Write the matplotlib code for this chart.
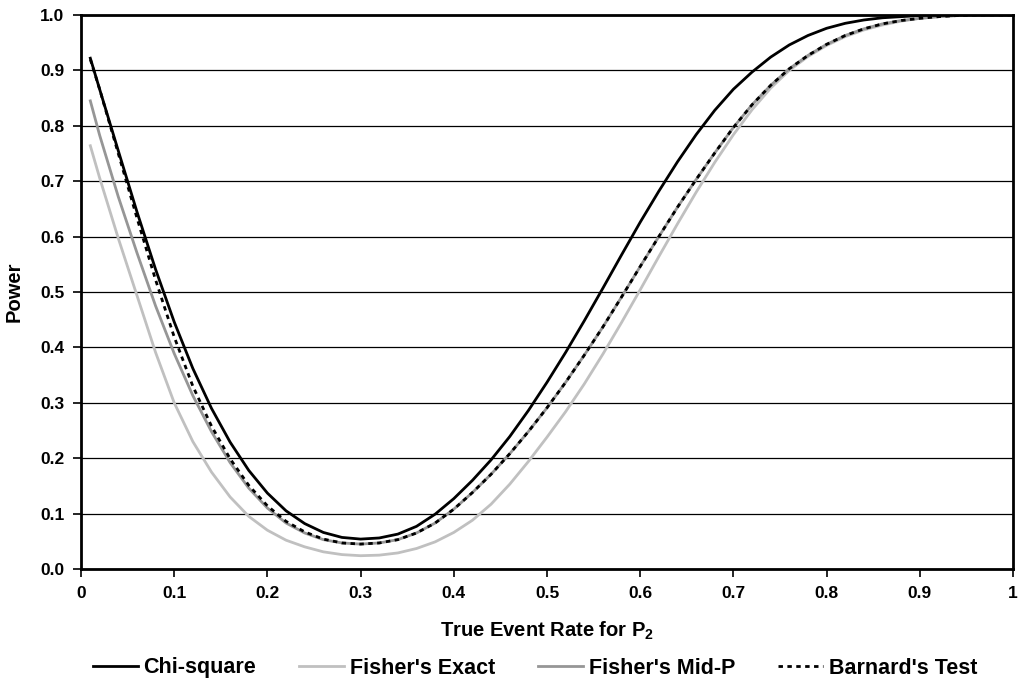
import matplotlib
matplotlib.use("Agg")
import matplotlib.pyplot as plt

plt.rcParams['font.family'] = ['Liberation Sans', 'DejaVu Sans']
plt.rcParams['font.weight'] = 'bold'
plt.rcParams['mathtext.fontset'] = 'custom'
plt.rcParams['mathtext.rm'] = 'Liberation Sans:bold'
plt.rcParams['mathtext.it'] = 'Liberation Sans:bold'
plt.rcParams['mathtext.bf'] = 'Liberation Sans:bold'

p2 = [0.01, 0.02, 0.04, 0.06, 0.08, 0.10, 0.12, 0.14, 0.16, 0.18, 0.20,
      0.22, 0.24, 0.26, 0.28, 0.30, 0.32, 0.34, 0.36, 0.38, 0.40,
      0.42, 0.44, 0.46, 0.48, 0.50, 0.52, 0.54, 0.56, 0.58, 0.60,
      0.62, 0.64, 0.66, 0.68, 0.70, 0.72, 0.74, 0.76, 0.78, 0.80,
      0.82, 0.84, 0.86, 0.88, 0.90, 0.92, 0.94, 0.96, 0.98, 1.00]

chi_square = [0.922, 0.866, 0.755, 0.645, 0.541, 0.446, 0.362, 0.290, 0.229, 0.178, 0.137,
              0.105, 0.082, 0.066, 0.057, 0.054, 0.056, 0.063, 0.077, 0.099, 0.127,
              0.160, 0.197, 0.239, 0.286, 0.337, 0.391, 0.448, 0.507, 0.567, 0.626,
              0.682, 0.735, 0.784, 0.828, 0.866, 0.897, 0.924, 0.946, 0.963, 0.976,
              0.985, 0.991, 0.995, 0.997, 0.999, 1.000, 1.000, 1.000, 1.000, 1.000]

fisher_exact = [0.764, 0.706, 0.597, 0.494, 0.391, 0.300, 0.230, 0.175, 0.130, 0.095, 0.070,
                0.052, 0.040, 0.031, 0.026, 0.024, 0.025, 0.029, 0.037, 0.049, 0.066,
                0.088, 0.117, 0.153, 0.194, 0.238, 0.284, 0.334, 0.388, 0.445, 0.504,
                0.564, 0.623, 0.680, 0.734, 0.784, 0.829, 0.868, 0.900, 0.925, 0.945,
                0.961, 0.973, 0.982, 0.989, 0.994, 0.997, 0.999, 1.000, 1.000, 1.000]

fisher_mid_p = [0.845, 0.783, 0.672, 0.571, 0.475, 0.389, 0.313, 0.248, 0.192, 0.146, 0.110,
                0.083, 0.065, 0.053, 0.047, 0.045, 0.047, 0.053, 0.065, 0.083, 0.108,
                0.138, 0.171, 0.208, 0.248, 0.291, 0.337, 0.386, 0.437, 0.491, 0.546,
                0.600, 0.653, 0.703, 0.751, 0.797, 0.838, 0.873, 0.903, 0.927, 0.947,
                0.963, 0.975, 0.984, 0.990, 0.994, 0.997, 0.999, 1.000, 1.000, 1.000]

barnard = [0.920, 0.866, 0.750, 0.634, 0.522, 0.419, 0.330, 0.258, 0.199, 0.151, 0.114,
           0.086, 0.067, 0.054, 0.047, 0.045, 0.047, 0.053, 0.065, 0.083, 0.108,
           0.138, 0.171, 0.208, 0.248, 0.291, 0.337, 0.386, 0.437, 0.491, 0.546,
           0.600, 0.653, 0.703, 0.751, 0.797, 0.838, 0.873, 0.903, 0.927, 0.947,
           0.963, 0.975, 0.984, 0.990, 0.994, 0.997, 0.999, 1.000, 1.000, 1.000]

x_ticks = [0, 0.1, 0.2, 0.3, 0.4, 0.5, 0.6, 0.7, 0.8, 0.9, 1.0]
x_tick_labels = ['0', '0.1', '0.2', '0.3', '0.4', '0.5', '0.6', '0.7', '0.8', '0.9', '1']
y_ticks = [0.0, 0.1, 0.2, 0.3, 0.4, 0.5, 0.6, 0.7, 0.8, 0.9, 1.0]
y_tick_labels = ['0.0', '0.1', '0.2', '0.3', '0.4', '0.5', '0.6', '0.7', '0.8', '0.9', '1.0']

fig = plt.figure(figsize=(10.19, 6.85), dpi=100)
ax = fig.add_axes([81/1019, 1 - 569/685, (1013-81)/1019, (569-15)/685])

lw = 2.0
ax.plot(p2, chi_square, color='black', lw=lw, label='Chi-square')
ax.plot(p2, fisher_exact, color='#c0c0c0', lw=lw, label="Fisher's Exact")
ax.plot(p2, fisher_mid_p, color='#969696', lw=lw, label="Fisher's Mid-P")
ax.plot(p2, barnard, color='black', lw=lw, ls=(0, (1.6, 1.6)), label="Barnard's Test")

ax.set_xlim(0, 1)
ax.set_ylim(0, 1)
ax.set_xticks(x_ticks)
ax.set_xticklabels(x_tick_labels)
ax.set_yticks(y_ticks)
ax.set_yticklabels(y_tick_labels)
ax.tick_params(axis='both', direction='out', length=6, width=1.2, labelsize=12.5, pad=6, color='black')
for lab in ax.get_xticklabels() + ax.get_yticklabels():
    lab.set_fontweight('bold')

ax.yaxis.grid(True, color='black', lw=0.9)
ax.set_axisbelow(True)
for s in ax.spines.values():
    s.set_linewidth(2.0)
    s.set_color('black')

ax.set_xlabel(r'True Event Rate for P$_{2}$', fontsize=14.5, fontweight='bold', labelpad=14)
ax.set_ylabel('Power', fontsize=14.5, fontweight='bold', labelpad=12)

leg = fig.legend(loc='center', bbox_to_anchor=(535/1019, 1 - 668/685), ncol=4, frameon=False,
                 fontsize=15.5, handlelength=2.1, columnspacing=2.0, handletextpad=0.25)
for t in leg.get_texts():
    t.set_fontweight('bold')

fig.savefig('out.png', dpi=100)
